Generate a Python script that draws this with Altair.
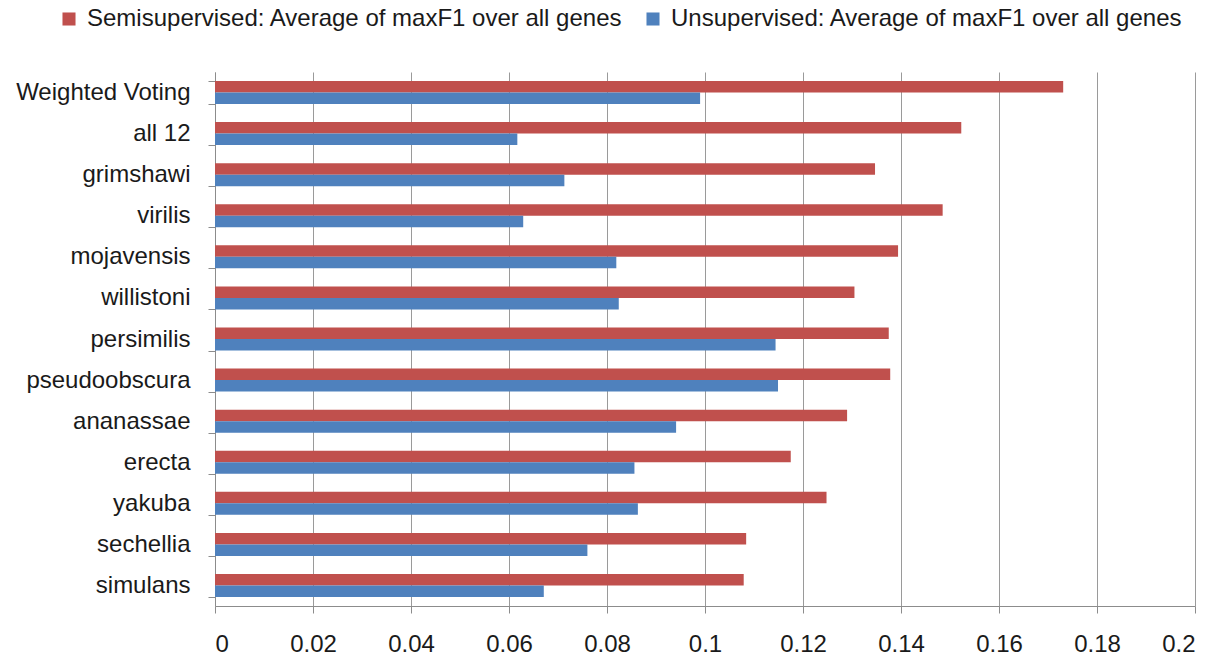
import altair as alt
import pandas as pd

categories = ["Weighted Voting", "all 12", "grimshawi", "virilis", "mojavensis",
              "willistoni", "persimilis", "pseudoobscura", "ananassae", "erecta",
              "yakuba", "sechellia", "simulans"]
semi = [0.1731, 0.1523, 0.1347, 0.1485, 0.1394, 0.1305, 0.1375, 0.1378,
        0.1290, 0.1175, 0.1248, 0.1084, 0.1079]
unsup = [0.0990, 0.0617, 0.0713, 0.0629, 0.0819, 0.0824, 0.1144, 0.1149,
         0.0941, 0.0856, 0.0863, 0.0760, 0.0671]
series = ["Semisupervised: Average of maxF1 over all genes",
          "Unsupervised: Average of maxF1 over all genes"]
colors = ["#C0504D", "#4F81BD"]
ticks = [0, 0.02, 0.04, 0.06, 0.08, 0.1, 0.12, 0.14, 0.16, 0.18, 0.2]

rows = []
for c, s, u in zip(categories, semi, unsup):
    rows.append({"cat": c, "series": series[0], "value": s})
    rows.append({"cat": c, "series": series[1], "value": u})
df = pd.DataFrame(rows)

FONT = "Liberation Sans"

chart = alt.Chart(df).mark_bar().encode(
    y=alt.Y("cat:N", sort=categories, title=None,
            scale=alt.Scale(paddingInner=0.44, paddingOuter=0.22),
            axis=alt.Axis(tickBand="extent", tickSize=7, tickColor="#8c8c8c",
                          domainColor="#8c8c8c", labelFontSize=24, labelFont=FONT,
                          labelColor="#1a1a1a", labelPadding=18, grid=False,
                          labelLimit=300)),
    x=alt.X("value:Q", title=None,
            scale=alt.Scale(domain=[0, 0.2], nice=False, zero=True),
            axis=alt.Axis(values=ticks, tickSize=7, tickColor="#8c8c8c",
                          domainColor="#8c8c8c", gridColor="#9a9a9a", grid=True,
                          labelFontSize=24, labelFont=FONT, labelColor="#1a1a1a",
                          labelPadding=19,
                          labelExpr="datum.value == 0 ? '0' : format(datum.value, '.2~f')")),
    yOffset=alt.YOffset("series:N", sort=series),
    color=alt.Color("series:N", sort=series,
                    scale=alt.Scale(domain=series, range=colors),
                    legend=alt.Legend(title=None, orient="none", legendX=-158, legendY=-65,
                                      direction="horizontal", symbolType="square",
                                      symbolSize=170, symbolStrokeWidth=0,
                                      labelFontSize=24, labelFont=FONT,
                                      labelColor="#1a1a1a", labelOffset=6,
                                      columnPadding=18, labelLimit=600)),
).properties(
    width=980, height=534,
    autosize=alt.AutoSizeParams(type="none"),
    padding={"left": 215, "top": 72, "right": 34, "bottom": 53},
).configure_view(stroke=None)

chart.save("out.html", embed_options={"renderer": "svg", "actions": False})
